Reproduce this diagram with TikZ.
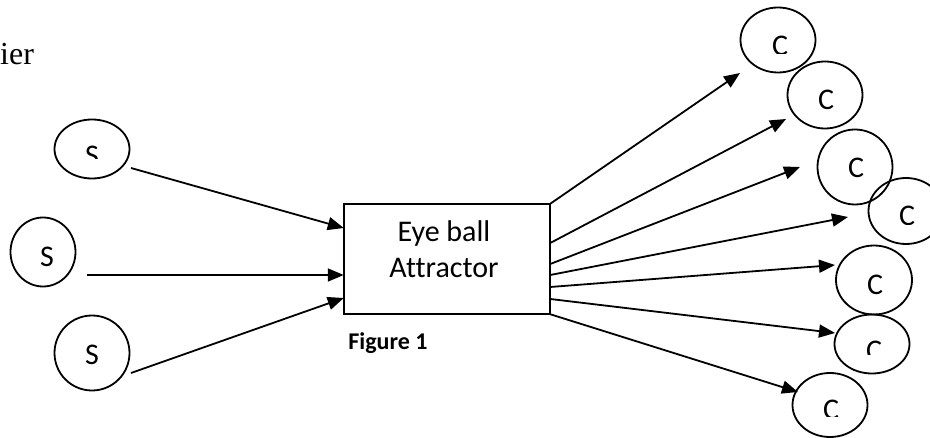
\documentclass[tikz,border=0pt]{standalone}
\usepackage{fontspec}
\setmainfont{Carlito}[Ligatures=NoCommon]
\newfontfamily\timesfont{Liberation Serif}
\usetikzlibrary{shapes.geometric,arrows.meta}
\tikzset{
  circ/.style={ellipse, draw, line width=1.8pt, inner sep=0pt, outer sep=0pt},
  lbl/.style={anchor=base, inner sep=0pt, font=\fontsize{30}{34}\selectfont},
  arr/.style={line width=1.8pt, -{Triangle[length=16pt,width=13pt]}},
  boxst/.style={draw, line width=1.8pt, minimum width=206.5pt, minimum height=110.5pt, inner sep=0pt, outer sep=0pt}
}
\begin{document}
\begin{tikzpicture}[x=1pt,y=-1pt]
\useasboundingbox (0,0) rectangle (930,438);
\clip (0,0) rectangle (930,438);
\fill[white] (0,0) rectangle (930,438);

% partial text at top left
\node[anchor=base west, inner sep=0pt, font=\timesfont\fontsize{32}{36}\selectfont] (ier) at (0,65) {ier};

% S circles
\node[circ, minimum width=75pt, minimum height=59pt] (s1) at (92,149) {};
\node[circ, minimum width=65pt, minimum height=69pt] (s2) at (43,252) {};
\node[circ, minimum width=75pt, minimum height=75pt] (s3) at (92,353) {};

\begin{scope}
\clip (50,120) rectangle (135,159);
\node[lbl] (s1t) at (92,166) {S};
\end{scope}
\node[lbl] (s2t) at (47,267) {S};
\node[lbl] (s3t) at (92,365) {S};

% central box
\node[boxst] (box) at (447,259) {};
\node[lbl] (eye) at (444,242) {Eye ball};
\node[lbl] (attr) at (444,278) {Attractor};
\node[anchor=base, inner sep=0pt, font=\bfseries\fontsize{24}{28}\selectfont] (fig) at (388,350) {Figure 1};

% incoming arrows
\draw[arr] (131,168) -- (box.west |- 0,228);
\draw[arr] (87,275) -- (box.west |- 0,275);
\draw[arr] (131,373) -- (box.west |- 0,298);

% C circles
\node[circ, minimum width=75pt, minimum height=65pt] (c1) at (778,40) {};
\node[circ, minimum width=75pt, minimum height=67pt] (c2) at (825,95) {};
\node[circ, minimum width=75pt, minimum height=75pt] (c3) at (855,167) {};
\node[circ, minimum width=75pt, minimum height=66pt] (c4) at (906,211) {};
\node[circ, minimum width=76pt, minimum height=69pt] (c5) at (874,280) {};
\node[circ, minimum width=75pt, minimum height=59pt] (c6) at (872,344) {};
\node[circ, minimum width=75pt, minimum height=64pt] (c7) at (830,405) {};

\begin{scope}
\clip (740,20) rectangle (815,54);
\node[lbl] (c1t) at (780,56) {C};
\end{scope}
\node[lbl] (c2t) at (826,110) {C};
\node[lbl] (c3t) at (856,178) {C};
\begin{scope}
\clip (870,190) rectangle (930,225);
\node[lbl] (c4t) at (907,226) {C};
\end{scope}
\node[lbl] (c5t) at (875,295) {C};
\begin{scope}
\clip (840,320) rectangle (905,355);
\node[lbl] (c6t) at (874,361) {C};
\end{scope}
\begin{scope}
\clip (800,380) rectangle (865,417);
\node[lbl] (c7t) at (831,420) {C};
\end{scope}

% outgoing arrows
\coordinate (t1) at (740,73);
\coordinate (t2) at (786,119);
\coordinate (t3) at (800,167);
\coordinate (t4) at (848,217);
\coordinate (t5) at (835,265);
\coordinate (t6) at (835,333);
\coordinate (t7) at (798,392);
\draw[arr] (box.north east) -- (t1);
\draw[arr] (box.east |- 0,243) -- (t2);
\draw[arr] (box.east |- 0,264) -- (t3);
\draw[arr] (box.east |- 0,275) -- (t4);
\draw[arr] (box.east |- 0,287) -- (t5);
\draw[arr] (box.east |- 0,299) -- (t6);
\draw[arr] (box.south east) -- (t7);
\end{tikzpicture}
\end{document}
